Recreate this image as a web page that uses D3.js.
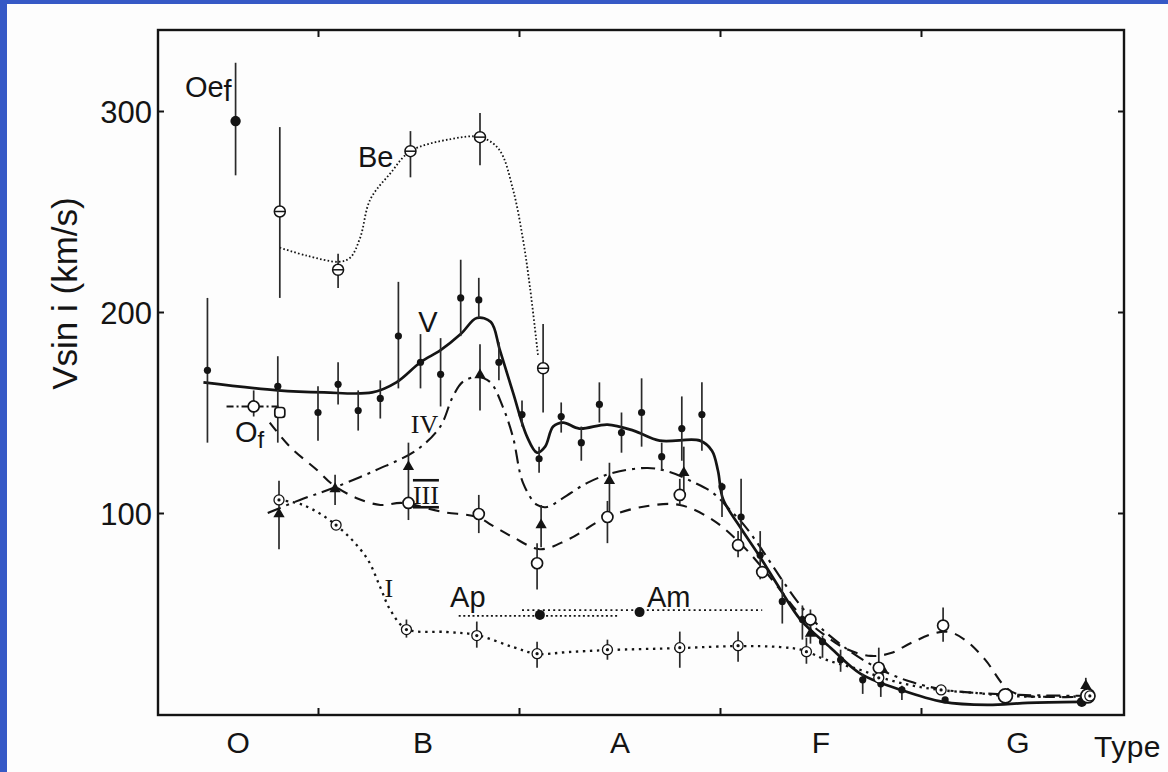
<!DOCTYPE html>
<html>
<head>
<meta charset="utf-8">
<script src="https://cdn.jsdelivr.net/npm/d3@7"></script>
<style>
  html, body { margin: 0; padding: 0; background: #ffffff; }
  svg { display: block; }
</style>
</head>
<body>
<svg id="chart" width="1168" height="772"></svg>
<script>
// Spectral index used on the x axis: O0 = 0, B0 = 10, A0 = 20, F0 = 30, G0 = 40
const classLabels = ["O", "B", "A", "F", "G"];
const classLabelPos = [6, 15.2, 25, 35, 44.8];
const classBounds = [10, 20, 30, 40];
const yTicks = [100, 200, 300];

// Smoothed mean curves, [spectral index, v sin i in km/s]
const curveV = [[4.3,165],[8.0,161],[10.3,160],[12.7,160],[13.9,165],[15.1,175],[16.1,181],[17.1,189],
  [17.9,197],[18.6,195],[19.05,181],[19.7,160],[20.4,138],[20.9,130],[21.3,133],[21.7,143],[22.2,145],
  [23.0,142],[24.4,144],[25.7,141],[27.0,136],[29.0,136],[29.6,131],[29.9,121],[30.15,107],[31,93],
  [32,78],[33,62],[34,47],[35.5,33],[37,20],[39,12],[41.1,6],[43.3,4.5],[45.3,5.5],[47.9,6]];
const curveIV = [[7.5,100],[9.1,106.5],[10.75,112.4],[12.9,121.4],[14.9,131.3],[16.07,142.8],[16.7,157.7],
  [17.2,165.2],[17.9,167.7],[18.56,165.2],[19.2,152.7],[19.7,137.8],[20.2,115],[20.9,104],[21.4,103],
  [22.2,107.5],[23.4,115],[24.7,120],[26.4,122.4],[27.5,120.4],[28.66,115.4],[29.65,110],[30.5,101.5],
  [31.2,94],[32,83],[33,68],[34,54],[35,43],[36.5,31],[38,22],[39.5,16],[41.2,12],[42.9,10.4],
  [44.9,9.5],[48.3,9]];
const curveIII = [[7.6,145],[8.6,133],[9.95,121.4],[10.75,114],[11.9,107.5],[13.1,104],[14.2,105],
  [16.2,100.5],[17.9,98],[18.8,93],[19.7,88],[21.04,82],[22.4,86.6],[24.4,98],[26.4,103.5],[28.0,104],
  [29.65,96.5],[31.0,85],[32.0,74],[33.0,61.7],[34.0,49.3],[35.0,40.8],[36.2,32.8],[37.5,28.9],
  [38.5,30.3],[39.5,35.3],[40.7,40.3],[41.4,40.8],[42.2,36.8],[43.2,26.9],[44.2,13.4],[44.9,9.5],
  [46.4,8.5],[48.3,8.5]];
const curveI = [[8.06,106.5],[9.25,104],[10.9,94],[12.4,78],[13.1,63],[13.6,51.7],[14.4,42.3],[16.4,40.8],
  [17.9,39.3],[19.7,33.3],[20.9,29.9],[22.4,30.8],[24.4,31.8],[28.0,32.8],[30.9,33.8],[33.0,33.3],
  [34.1,31.8],[35.3,26.9],[37.0,21.9],[38.1,17.9],[39.45,14.4],[41.0,11.9],[42.8,10.4],[44.3,9],
  [46.9,8.5],[48.4,9]];
const curveBe = [[8.1,232],[9.45,228],[11.04,225],[11.6,227],[12.1,237],[12.6,256],[13.6,269],[14.6,280],
  [16.6,286],[18.06,287],[19.0,281],[19.7,261],[20.2,236],[20.55,212],[20.95,178]];

// Mean values with ranges, [spectral index, v sin i, low, high]
const pointsV = [[4.5,171,135,207],[8.0,163,135,178],[10.0,150,136,163],[11.0,164,154,175],[12.0,151,141,161],
  [13.1,157,147,166],[14.0,188,162,215],[15.1,175,162,189],[16.1,169,153,187],[17.1,207,188,226],
  [18.0,206,197,217],[19.0,175,166,185],[20.15,149,143,156],[21.0,127,120,133],[22.1,148,140,155],
  [23.1,135,126,143],[24.0,154,145,165],[25.1,140,130,150],[26.1,150,133,167],[27.1,128,121,135],
  [28.1,142,126,158],[29.1,149,131,165],[30.1,113,98,115],[31.05,98,82,117],[32.0,79,67,91],
  [33.1,56,45,67],[34.1,47,37,54],[35.1,36,28,39],[36.0,27,21,32],[37.1,17,10,20],[38.0,15,8.5,18],
  [39.05,12,7,14],[41.2,7,7,7],[48.0,6,6,6]];
const pointsIV = [[8.06,99.5,82,116],[10.85,112,104,119],[14.5,123,96.5,135],[18.06,168.7,151,184],
  [21.1,94,83,104],[24.5,116,100,125],[28.2,120,108,133],[34.5,40,35,45],[38.1,22,19,25],[48.2,14,8.5,18]];
const pointsIII = [[14.5,105,105,105],[18.0,99.5,90,109],[20.9,75,62,85],[24.4,98,85,106],[28.0,109,104,117],
  [30.9,84,78,91],[32.1,70.6,70.6,70.6],[34.5,47,40,52],[37.9,23,18,33],[41.1,44,36,53],[44.2,9,9,9],[48.3,9,9,9]];
const pointsI = [[8.06,106.5,106.5,106.5],[10.9,94,94,94],[14.4,42,38,47],[17.9,39,33,46],[20.9,30,23,36],
  [24.4,32,27,37],[28.0,33,23,41],[30.9,34,26,41],[34.3,31,25,38],[37.9,18,18,18],[41.0,12,12,12],[48.4,9,9,9]];
const pointsBe = [[8.1,250,207,292],[11.0,221,212,229],[14.6,280,267,290],[18.06,287,273,299],[21.2,172,150,194]];
const pointsOef = [[5.9,295,268,324]];
const pointsOf = [[6.8,153,148,161],[8.1,150,150,150]];
const rangeOf = [[5.45,153],[8.1,153]];

// Peculiar A stars: extent of the sample and its mean
const rangeAp = [[17.0,48.8],[25.0,48.8]];
const meanAp = [[21.04,49.3]];
const rangeAm = [[20.15,51.7],[32.1,51.7]];
const meanAm = [[26.0,50.7]];

const svg = d3.select("#chart");
const W = 1168, H = 772;
const plot = { left: 158, right: 1124, top: 30, bottom: 715 };

svg.append("rect").attr("width", W).attr("height", H).attr("fill", "#fdfdfd");
svg.append("rect").attr("x", 0).attr("y", 0).attr("width", 7).attr("height", H).attr("fill", "#3659c6");
svg.append("rect").attr("x", 0).attr("y", 0).attr("width", W).attr("height", 4).attr("fill", "#3659c6");

const x = d3.scaleLinear().domain([2.04, 50.1]).range([plot.left, plot.right]);
const y = d3.scaleLinear().domain([0, 340.3]).range([714, plot.top]);

const ink = "#141414";
const sans = "'Liberation Sans', Arial, sans-serif";
const serif = "'Liberation Serif', 'Times New Roman', serif";

// Frame
svg.append("rect")
  .attr("x", plot.left).attr("y", plot.top)
  .attr("width", plot.right - plot.left).attr("height", plot.bottom - plot.top)
  .attr("fill", "none").attr("stroke", ink).attr("stroke-width", 2.4);

function styleAxis(g) {
  g.select(".domain").remove();
  g.selectAll(".tick line").attr("stroke", ink).attr("stroke-width", 2);
  g.selectAll(".tick text").attr("fill", ink).attr("font-family", sans);
}

// Left axis with labels, right axis ticks only
svg.append("g").attr("transform", `translate(${plot.left},0)`)
  .call(d3.axisLeft(y).tickValues(yTicks).tickSize(-6).tickPadding(6).tickFormat(d3.format("d")))
  .call(styleAxis)
  .call(g => g.selectAll(".tick text").attr("font-size", 31).attr("dy", "0.36em"));
svg.append("g").attr("transform", `translate(${plot.right},0)`)
  .call(d3.axisRight(y).tickValues(yTicks).tickSize(-6).tickFormat(""))
  .call(styleAxis);

// Class boundaries, top and bottom
svg.append("g").attr("transform", `translate(0,${plot.bottom})`)
  .call(d3.axisBottom(x).tickValues(classBounds).tickSize(-7).tickFormat(""))
  .call(styleAxis);
svg.append("g").attr("transform", `translate(0,${plot.top})`)
  .call(d3.axisTop(x).tickValues(classBounds).tickSize(-7).tickFormat(""))
  .call(styleAxis);

// Class letters
svg.append("g").attr("transform", `translate(0,${plot.bottom})`)
  .call(d3.axisBottom(x).tickValues(classLabelPos).tickSize(0).tickPadding(17)
    .tickFormat((d, i) => classLabels[i]))
  .call(styleAxis)
  .call(g => g.selectAll(".tick text").attr("font-size", 30).attr("dy", "0.71em"));

svg.append("text").attr("x", 1094).attr("y", 757)
  .attr("font-family", sans).attr("font-size", 30).attr("letter-spacing", 0.5)
  .attr("fill", ink).text("Type");

svg.append("text")
  .attr("transform", "translate(77,293.5) rotate(-90)")
  .attr("text-anchor", "middle")
  .attr("font-family", sans).attr("font-size", 35).attr("fill", ink)
  .text("Vsin i (km/s)");

const smooth = d3.line().x(d => x(d[0])).y(d => y(d[1])).curve(d3.curveCatmullRom.alpha(0.5));
const straight = d3.line().x(d => x(d[0])).y(d => y(d[1]));

function drawCurve(data, dash, width, gen) {
  svg.append("path").datum(data)
    .attr("d", gen || smooth)
    .attr("fill", "none").attr("stroke", ink)
    .attr("stroke-width", width)
    .attr("stroke-dasharray", dash)
    .attr("stroke-linecap", "butt");
}

function drawBars(data, color) {
  svg.append("g").selectAll("line").data(data.filter(d => d[3] - d[2] > 0.5)).join("line")
    .attr("x1", d => x(d[0])).attr("x2", d => x(d[0]))
    .attr("y1", d => y(d[3])).attr("y2", d => y(d[2]))
    .attr("stroke", color || "#2a2a2a").attr("stroke-width", 1.7);
}

// Curves
drawCurve(curveBe, "1.6,2.2", 1.8);
drawCurve(curveV, null, 2.7);
drawCurve(curveIV, "14,6,3,6", 2.1);
drawCurve(curveIII, "11,8", 2.1);
drawCurve(curveI, "2.4,4.6", 2.3);
drawCurve(rangeOf, "7,3,2,3", 2, straight);
drawCurve(rangeAp, "2,2.6", 1.7, straight);
drawCurve(rangeAm, "2,3.2", 1.9, straight);

// Ranges
[pointsBe, pointsOef, pointsOf, pointsV, pointsIV, pointsIII, pointsI].forEach(p => drawBars(p));

// Markers
const mark = svg.append("g");
mark.selectAll(".be").data(pointsBe).join("g")
  .attr("transform", d => `translate(${x(d[0])},${y(d[1])})`)
  .call(g => {
    g.append("circle").attr("r", 5.5).attr("fill", "#fff").attr("stroke", ink).attr("stroke-width", 1.5);
    g.append("line").attr("x1", -5.5).attr("x2", 5.5).attr("stroke", ink).attr("stroke-width", 1.5);
  });
mark.selectAll(".v").data(pointsV).join("circle")
  .attr("cx", d => x(d[0])).attr("cy", d => y(d[1]))
  .attr("r", (d, i) => i === pointsV.length - 1 ? 5 : 3.6).attr("fill", ink);
mark.selectAll(".iv").data(pointsIV).join("path")
  .attr("transform", d => `translate(${x(d[0])},${y(d[1])})`)
  .attr("d", d3.symbol(d3.symbolTriangle).size(55)).attr("fill", ink);
mark.selectAll(".iii").data(pointsIII).join("circle")
  .attr("cx", d => x(d[0])).attr("cy", d => y(d[1]))
  .attr("r", (d) => d[0] > 44 ? 7 : 5.5).attr("fill", "#fff").attr("stroke", ink).attr("stroke-width", 1.7);
mark.selectAll(".i").data(pointsI).join("g")
  .attr("transform", d => `translate(${x(d[0])},${y(d[1])})`)
  .call(g => {
    g.append("circle").attr("r", 5).attr("fill", "#fff").attr("stroke", ink).attr("stroke-width", 1.3);
    g.append("circle").attr("r", 1.6).attr("fill", ink);
  });
mark.selectAll(".oef").data(pointsOef).join("circle")
  .attr("cx", d => x(d[0])).attr("cy", d => y(d[1])).attr("r", 5.2).attr("fill", ink);
mark.append("circle").datum(pointsOf[0])
  .attr("cx", d => x(d[0])).attr("cy", d => y(d[1])).attr("r", 5.5)
  .attr("fill", "#fff").attr("stroke", ink).attr("stroke-width", 1.7);
mark.append("rect").datum(pointsOf[1])
  .attr("x", d => x(d[0]) - 5).attr("y", d => y(d[1]) - 5).attr("width", 10).attr("height", 10).attr("rx", 3)
  .attr("fill", "#fff").attr("stroke", ink).attr("stroke-width", 1.7);
mark.selectAll(".pec").data(meanAp.concat(meanAm)).join("circle")
  .attr("cx", d => x(d[0])).attr("cy", d => y(d[1])).attr("r", 5).attr("fill", ink);

// Curve labels
function label(txt, px, py, opts) {
  const o = Object.assign({ size: 29, family: sans, anchor: "start" }, opts || {});
  return svg.append("text").attr("x", x(px)).attr("y", y(py))
    .attr("font-family", o.family).attr("font-size", o.size)
    .attr("text-anchor", o.anchor).attr("fill", ink).text(txt);
}
label("V", 15.47, 190, { anchor: "middle", size: 29 });
label("IV", 15.3, 139.8, { anchor: "middle", family: serif, size: 26 });
label("III", 15.37, 104.5, { anchor: "middle", family: serif, size: 26 })
  .attr("text-decoration", "overline underline");
label("I", 13.53, 58.2, { anchor: "middle", family: serif, size: 26 });
label("Be", 11.99, 272, { size: 29 });
label("Ap", 16.57, 53.2, { size: 29 });
label("Am", 26.37, 53.2, { size: 29 });
const oef = label("Oe", 3.38, 307, { size: 29 });
oef.append("tspan").attr("dy", 4).text("f");
const of = label("O", 5.87, 135.3, { size: 29 });
of.append("tspan").attr("dy", 6).attr("font-size", 24).text("f");
</script>
</body>
</html>
